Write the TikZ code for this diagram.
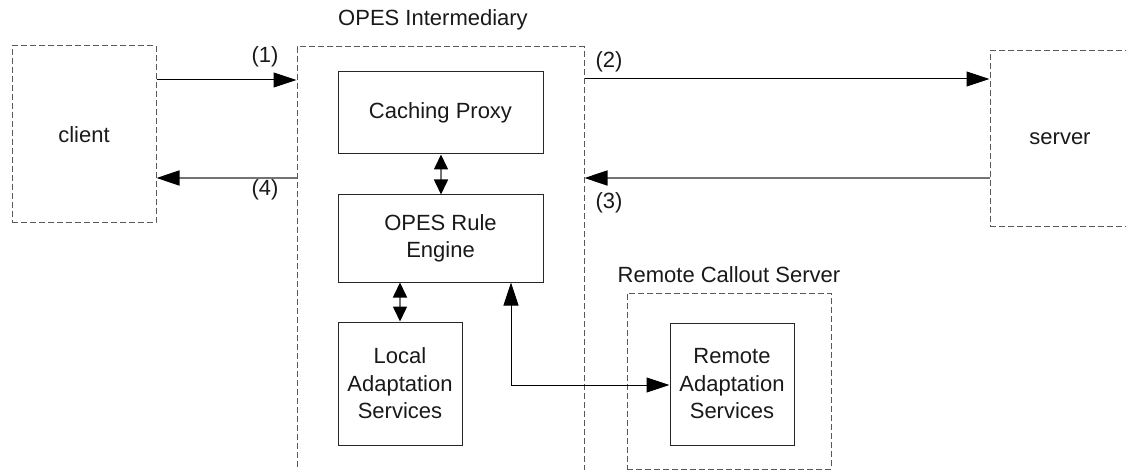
\documentclass[tikz,border=0pt]{standalone}
\usepackage{fontspec}
\setmainfont{Liberation Sans}
\usetikzlibrary{arrows.meta}
\begin{document}
\begin{tikzpicture}[x=1pt,y=-1pt,
  every node/.style={font=\fontsize{22}{27.5}\selectfont, text=black!90},
  box/.style={draw=black!85, line width=1pt, align=center, inner sep=0pt},
  cont/.style={draw=black!65, dash pattern=on 6pt off 3pt, line width=1pt, inner sep=0pt, align=center},
  bigtip/.tip={Triangle[length=23pt,width=15pt,color=black,fill=black]},
  smalltip/.tip={Triangle[length=15pt,width=14pt,color=black,fill=black]},
  blk/.style={draw=black, line width=1pt},
  gr/.style={draw=black!55, line width=1.6pt}
]
\useasboundingbox (0,0) rectangle (1126,470);
\clip (0,0) rectangle (1126,470);
% containers
\node[cont, minimum width=144pt, minimum height=177pt] (client) at (84,134.5) {client};
\node[cont, minimum width=287pt, minimum height=425pt] (opes) at (440.5,259.5) {};
\node[cont, minimum width=140pt, minimum height=176pt] (server) at (1060,139) {server};
\node[cont, minimum width=204pt, minimum height=176pt] (rcs) at (729,381) {};
% inner boxes
\node[box, minimum width=205pt, minimum height=82pt] (cp) at (440.5,113) {Caching Proxy};
\node[box, minimum width=205pt, minimum height=87pt] (re) at (440.5,238.5) {OPES Rule\\Engine};
\node[box, minimum width=124pt, minimum height=123pt] (local) at (400,383.5) {Local\\Adaptation\\Services};
\node[box, minimum width=124pt, minimum height=122pt] (ras) at (732,384) {Remote\\Adaptation\\Services};
% titles and labels
\node (topes) at (433,20) {OPES Intermediary};
\node (trcs) at (729,275) {Remote Callout Server};
\node (l1) at (265,57) {(1)};
\node (l4) at (265,190) {(4)};
\node (l2) at (609,62) {(2)};
\node (l3) at (609,203) {(3)};
% connectors
\draw[blk, -bigtip] (client.east |- 0,80) -- (opes.west |- 0,80);
\draw[gr, -bigtip] (opes.west |- 0,178) -- (client.east |- 0,178);
\draw[blk, -bigtip] (opes.east |- 0,79) -- (server.west |- 0,79);
\draw[gr, -bigtip] (server.west |- 0,178) -- (opes.east |- 0,178);
\draw[gr, smalltip-smalltip] (cp.south -| 441,0) -- (re.north -| 441,0);
\draw[gr, smalltip-smalltip] (re.south -| 400,0) -- (local.north -| 400,0);
\draw[blk, bigtip-bigtip] (re.south -| 511,0) -- (511,385) -- (ras.west |- 0,385);
\end{tikzpicture}
\end{document}
